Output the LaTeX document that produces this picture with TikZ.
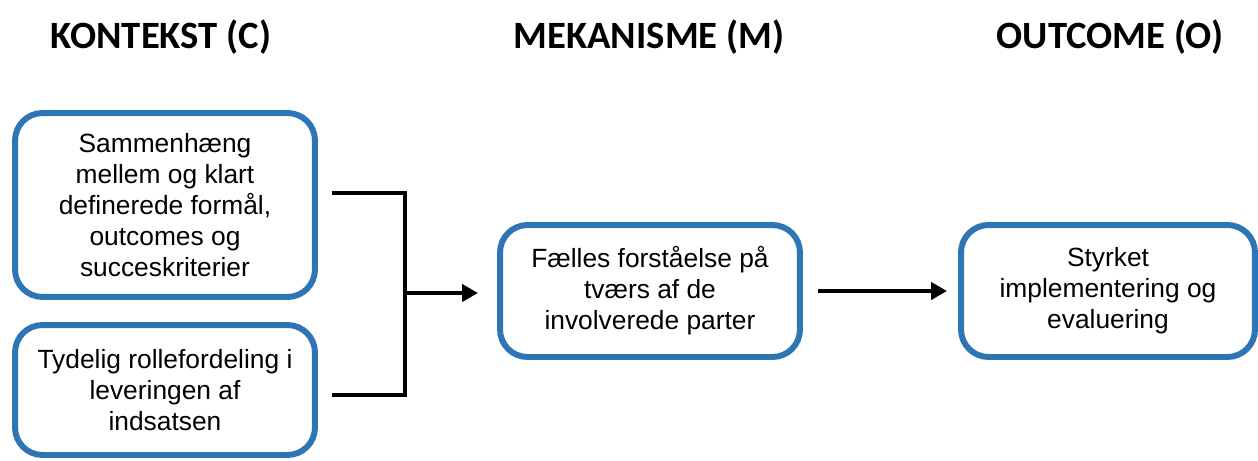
\documentclass[tikz,border=0pt]{standalone}
\usepackage{fontspec}
\setmainfont{Liberation Sans}
\newfontfamily\headfont{Carlito}
\usepackage{tikz}
\usepackage{xcolor}
\usetikzlibrary{arrows.meta,positioning,calc}
\definecolor{cmoblue}{HTML}{2E75B6}

\begin{document}
\begin{tikzpicture}[x=0.02cm,y=-0.02cm,
  cmobox/.style={draw=cmoblue,line width=3.4pt,rounded corners=0.55cm,align=center,
    font=\fontsize{15}{17.6}\selectfont,inner sep=0pt},
  cmohead/.style={font=\headfont\bfseries\fontsize{22}{26}\selectfont},
  cmoline/.style={line width=2.3pt},
  cmoarrow/.style={line width=2.3pt,-{Triangle[length=0.32cm,width=0.34cm]}}]
\useasboundingbox (0,0) rectangle (1258,460);
% overskrifter
\node[cmohead] (hC) at (161,37) {KONTEKST (C)};
\node[cmohead] (hM) at (649,37) {MEKANISME (M)};
\node[cmohead] (hO) at (1110,37) {OUTCOME (O)};
% kasser
\node[cmobox,minimum width=6cm,minimum height=3.68cm] (ctx1) at (165,205)
  {Sammenhæng\\mellem og klart\\definerede formål,\\outcomes og\\succeskriterier};
\node[cmobox,minimum width=6cm,minimum height=2.6cm] (ctx2) at (165,390)
  {Tydelig rollefordeling i\\leveringen af\\indsatsen};
\node[cmobox,minimum width=6cm,minimum height=2.64cm] (mek) at (650,291)
  {Fælles forståelse på\\tværs af de\\involverede parter};
\node[cmobox,minimum width=5.88cm,minimum height=2.64cm] (out) at (1108,291)
  {Styrket\\implementering og\\evaluering};
% forbindelser
\coordinate (top) at (332,193);
\coordinate (bot) at (332,395);
\coordinate (join) at (405,293);
\draw[cmoline] (top) -| (join |- bot) -- (bot);
\draw[cmoarrow,shorten >=0.38cm] (join) -- (mek.west |- join);
\draw[cmoarrow,shorten <=0.3cm,shorten >=0.22cm] (mek.east) -- (out.west);
\end{tikzpicture}
\end{document}
